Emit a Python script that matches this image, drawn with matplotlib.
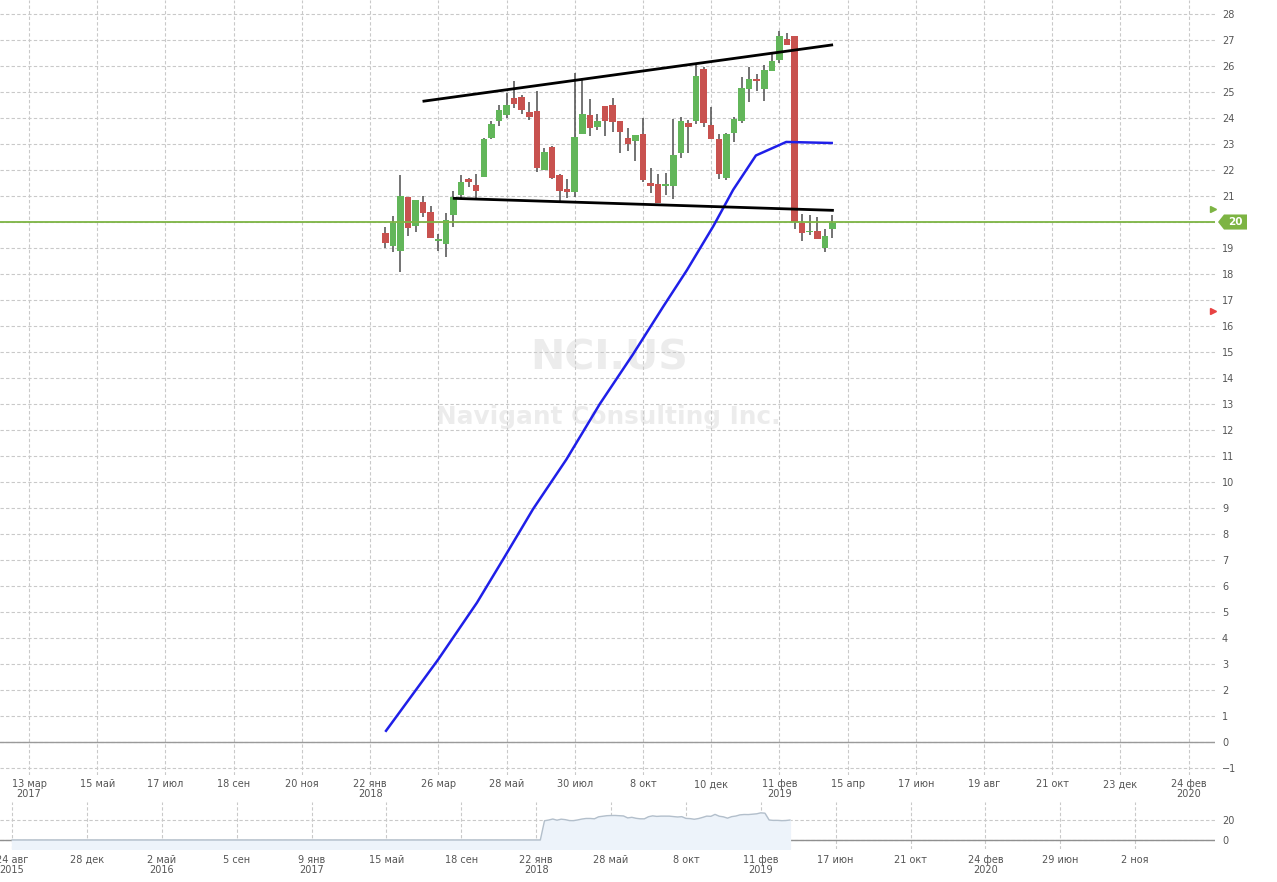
import matplotlib
matplotlib.use("Agg")
import matplotlib.pyplot as plt
import matplotlib.transforms as mtransforms
from matplotlib.patches import Polygon
import numpy as np

# weekly candles, x = week index (0 = 22 Jan 2018)
candle_x = list(range(2, 62))
opens = [19.58, 19.09, 18.90, 20.96, 19.86, 20.77, 20.38, 19.28, 19.15, 20.27,
         21.04, 21.65, 21.42, 21.74, 23.24, 23.90, 24.12, 24.76, 24.79, 24.23,
         24.27, 22.00, 22.87, 21.81, 21.27, 21.17, 23.38, 24.12, 23.67, 24.46,
         24.50, 23.88, 23.22, 23.13, 23.38, 21.50, 21.46, 21.40, 21.40, 22.67,
         23.79, 23.90, 25.88, 23.73, 23.19, 21.70, 23.44, 23.90, 25.13, 25.50,
         25.12, 25.82, 26.23, 27.03, 27.15, 19.97, 19.61, 19.65, 19.01, 19.72]
highs = [19.82, 20.22, 21.81, 20.96, 20.85, 21.00, 20.62, 19.53, 20.33, 21.19,
         21.81, 21.70, 21.85, 23.24, 23.90, 24.50, 24.95, 25.42, 24.88, 24.63,
         25.04, 22.83, 22.92, 21.85, 21.64, 25.75, 25.49, 24.73, 24.14, 24.46,
         24.76, 23.88, 23.60, 23.35, 23.99, 22.09, 21.85, 21.87, 23.95, 24.05,
         23.92, 26.04, 25.97, 24.41, 23.37, 23.42, 24.05, 25.59, 25.97, 25.69,
         26.04, 26.49, 27.36, 27.26, 27.15, 20.29, 20.27, 20.20, 19.72, 20.27]
lows = [18.99, 18.86, 18.09, 19.45, 19.63, 20.21, 19.40, 18.90, 18.64, 19.82,
        20.94, 21.36, 20.88, 21.74, 23.18, 23.71, 24.01, 24.40, 24.14, 23.94,
        21.94, 22.00, 21.65, 20.81, 20.91, 20.97, 23.38, 23.32, 23.54, 23.29,
        23.47, 22.64, 22.74, 22.36, 21.55, 21.10, 20.74, 21.04, 20.88, 22.45,
        22.64, 23.76, 23.64, 23.18, 21.65, 21.62, 23.09, 23.82, 24.60, 25.05,
        24.67, 25.82, 26.13, 26.81, 19.72, 19.27, 19.50, 19.33, 18.83, 19.37]
closes = [19.21, 19.97, 20.99, 19.78, 20.83, 20.36, 19.40, 19.35, 20.08, 20.96,
          21.54, 21.54, 21.20, 23.19, 23.77, 24.31, 24.50, 24.54, 24.32, 24.04,
          22.09, 22.68, 21.71, 21.20, 21.17, 23.27, 24.15, 23.60, 23.88, 23.90,
          23.86, 23.47, 23.01, 23.35, 21.62, 21.40, 20.74, 21.43, 22.58, 23.88,
          23.67, 25.62, 23.79, 23.18, 21.83, 23.37, 23.96, 25.14, 25.50, 25.42,
          25.85, 26.19, 27.15, 26.81, 20.01, 19.59, 19.64, 19.33, 19.46, 19.97]

# moving average line (blue)
ma_x = [2.1, 9.0, 14.1, 17.6, 21.5, 25.9, 30.3, 34.7, 38.7, 41.8, 45.3, 47.9, 50.9, 54.9, 60.9]
ma_y = [0.43, 3.18, 5.36, 7.05, 8.96, 10.87, 13.0, 14.92, 16.76, 18.15, 19.85, 21.24, 22.56, 23.08, 23.04]

# trend lines
upper_x = [7.1, 60.9]
upper_y = [24.65, 26.81]
lower_x = [11.1, 61.0]
lower_y = [20.91, 20.45]

last_price = 20
marker_up = 20.5
marker_down = 16.58

tick_pos = [-45, -36, -27, -18, -9, 0, 9, 18, 27, 36, 45, 54, 63, 72, 81, 90, 99, 108]
tick_labels = ["13 мар\n2017", "15 май", "17 июл", "18 сен", "20 ноя", "22 янв\n2018",
               "26 мар", "28 май", "30 июл", "8 окт", "10 дек", "11 фев\n2019",
               "15 апр", "17 июн", "19 авг", "21 окт", "23 дек", "24 фев\n2020"]

nav_tick_pos = [-126, -108, -90, -72, -54, -36, -18, 0, 18, 36, 54, 72, 90, 108, 126, 144]
nav_tick_labels = ["24 авг\n2015", "28 дек", "2 май\n2016", "5 сен", "9 янв\n2017", "15 май",
                   "18 сен", "22 янв\n2018", "28 май", "8 окт", "11 фев\n2019", "17 июн",
                   "21 окт", "24 фев\n2020", "29 июн", "2 ноя"]
nav_x = list(range(-126, 62))
nav_y = [0] * 128 + closes

GREEN = "#62b65a"
RED = "#c8524f"
LINE_GREEN = "#7db443"
GRID = "#c9c9c9"
TXT = "#555555"

W, H = 1277, 882
fig = plt.figure(figsize=(W / 100, H / 100), dpi=100)
fig.patch.set_facecolor("white")

# ---- main chart
ax = fig.add_axes([0, (H - 775) / H, 1215 / W, 775 / H])
ax.set_xlim(-48.83, 111.47)
ax.set_ylim(-1.27, 28.54)
for s in ax.spines.values():
    s.set_visible(False)
ax.set_axisbelow(True)
ax.grid(True, color=GRID, linestyle=(0, (3, 2)), linewidth=0.8)
yt = list(range(-1, 29))
ax.set_yticks(yt)
ax.set_yticklabels(["" if v == last_price else ("\u2212" + str(-v) if v < 0 else str(v)) for v in yt])
ax.yaxis.tick_right()
ax.set_xticks(tick_pos)
ax.set_xticklabels(tick_labels, linespacing=1.0)
ax.tick_params(axis="both", length=0, labelsize=7, labelcolor=TXT)
ax.tick_params(axis="y", pad=5)
ax.tick_params(axis="x", pad=3)
for lab in ax.get_yticklabels():
    lab.set_horizontalalignment("left")

ax.axhline(0, color="#9a9a9a", lw=1, zorder=1)

ax.text(0.501, 0.538, "NCI.US", transform=ax.transAxes, fontsize=29.5, weight="bold",
        color="#ececec", ha="center", va="center", zorder=0.1)
ax.text(0.501, 0.462, "Navigant Consulting Inc.", transform=ax.transAxes, fontsize=17.8,
        weight="bold", color="#ececec", ha="center", va="center", zorder=0.1)

o = np.array(opens)
c = np.array(closes)
colors = [GREEN if cc >= oo else RED for oo, cc in zip(o, c)]
ax.vlines(candle_x, lows, highs, color="#4d4d4d", lw=1.1, zorder=3)
ax.bar(candle_x, np.maximum(np.abs(c - o), 0.06), bottom=np.minimum(o, c), width=0.86,
       color=colors, zorder=4)

ax.axhline(last_price, color=LINE_GREEN, lw=1.3, zorder=4.5)
ax.plot(ma_x, ma_y, color="#1f1fe8", lw=1.8, zorder=5)
ax.plot(upper_x, upper_y, color="black", lw=2, zorder=6)
ax.plot(lower_x, lower_y, color="black", lw=2, zorder=6)

edge = mtransforms.blended_transform_factory(ax.transAxes, ax.transData)
ax.plot([0.998], [marker_up], marker=">", ms=5, color=LINE_GREEN, transform=edge, clip_on=False)
ax.plot([0.998], [marker_down], marker=">", ms=5, color="#e84242", transform=edge, clip_on=False)

# price tag on the right axis
tag = mtransforms.blended_transform_factory(fig.transFigure, ax.transData)
h = 0.29
tag_pts = [(1218 / W, last_price), (1224 / W, last_price + h), (1247 / W, last_price + h),
           (1247 / W, last_price - h), (1224 / W, last_price - h)]
fig.patches.append(Polygon(tag_pts, closed=True, fc=LINE_GREEN, ec="none", transform=tag))
fig.text(1235.5 / W, last_price, str(last_price), transform=tag, color="white", fontsize=7.5,
         weight="bold", ha="center", va="center")

# ---- navigator
nav = fig.add_axes([0, (H - 849) / H, 1215 / W, 47 / H])
nav.set_xlim(-128.9, 163.2)
nav.set_ylim(-9, 38)
for s in nav.spines.values():
    s.set_visible(False)
nav.set_axisbelow(True)
nav.grid(True, color=GRID, linestyle=(0, (3, 2)), linewidth=0.8)
nav.set_yticks([0, 20])
nav.yaxis.tick_right()
nav.set_xticks(nav_tick_pos)
nav.set_xticklabels(nav_tick_labels, linespacing=1.0)
nav.tick_params(axis="both", length=0, labelsize=7, labelcolor=TXT)
nav.tick_params(axis="y", pad=5)
nav.tick_params(axis="x", pad=4)
for lab in nav.get_yticklabels():
    lab.set_horizontalalignment("left")
nav.axhline(0, color="#8f8f8f", lw=1, zorder=1)
nav.fill_between(nav_x, nav_y, -9, color="#edf3fa", zorder=2)
nav.plot(nav_x, nav_y, color="#b3bfcb", lw=1, zorder=3)

fig.savefig("out.png", dpi=100)
